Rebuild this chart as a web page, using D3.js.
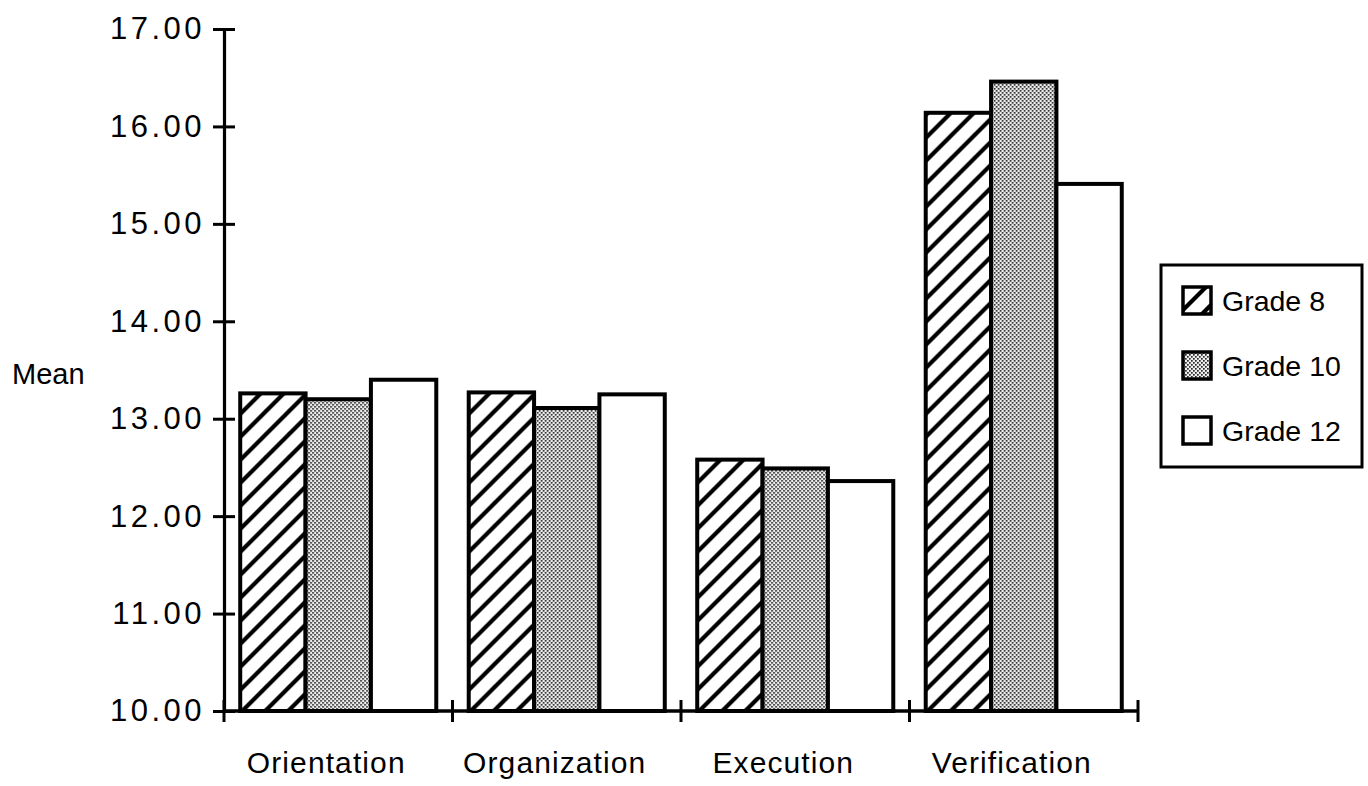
<!DOCTYPE html>
<html>
<head>
<meta charset="utf-8">
<script src="https://cdn.jsdelivr.net/npm/d3@7"></script>
<style>
  html, body { margin: 0; padding: 0; background: #fff; }
  svg { display: block; }
  text { font-family: "Liberation Sans", Arial, Helvetica, sans-serif; fill: #000; }
</style>
</head>
<body>
<svg id="chart" width="1368" height="786"></svg>
<script>
// Mean scores by problem-solving phase and grade
const categories = ["Orientation", "Organization", "Execution", "Verification"];
const grades = ["Grade 8", "Grade 10", "Grade 12"];
const grade8  = [13.26, 13.27, 12.58, 16.14];
const grade10 = [13.20, 13.11, 12.49, 16.46];
const grade12 = [13.40, 13.25, 12.36, 15.41];
const yTicks = [10, 11, 12, 13, 14, 15, 16, 17];
const yAxisTitle = "Mean";

const seriesValues = [grade8, grade10, grade12];
const fills = ["url(#hatch)", "url(#stipple)", "#ffffff"];

const svg = d3.select("#chart");

const plot = { left: 224, right: 1138, top: 29, bottom: 711 };

// fill patterns
const defs = svg.append("defs");
const hatch = defs.append("pattern")
  .attr("id", "hatch").attr("patternUnits", "userSpaceOnUse")
  .attr("width", 23).attr("height", 23);
hatch.append("rect").attr("width", 23).attr("height", 23).attr("fill", "#fff");
hatch.append("path")
  .attr("d", "M0,23 L23,0 M-6,6 L6,-6 M17,29 L29,17")
  .attr("stroke", "#000").attr("stroke-width", 4.2);

const stipple = defs.append("pattern")
  .attr("id", "stipple").attr("patternUnits", "userSpaceOnUse")
  .attr("width", 4).attr("height", 4);
stipple.append("rect").attr("width", 4).attr("height", 4).attr("fill", "#eeeeee");
stipple.append("rect").attr("x", 0).attr("y", 0).attr("width", 1.7).attr("height", 1.7).attr("fill", "#2a2a2a");
stipple.append("rect").attr("x", 2).attr("y", 2).attr("width", 1.7).attr("height", 1.7).attr("fill", "#2a2a2a");

// scales
const y = d3.scaleLinear().domain([10, 17]).range([plot.bottom, plot.top]);
const x0 = d3.scaleBand().domain(categories).range([plot.left, plot.right])
  .paddingInner(0.142).paddingOuter(0.071);
const x1 = d3.scaleBand().domain(grades).range([0, x0.bandwidth()]).padding(0);

// bars
const groups = svg.append("g").selectAll("g")
  .data(categories).join("g")
  .attr("transform", d => `translate(${x0(d)},0)`);

groups.selectAll("rect")
  .data((c, ci) => grades.map((g, gi) => ({ g, gi, v: seriesValues[gi][ci] })))
  .join("rect")
  .attr("x", d => x1(d.g))
  .attr("y", d => y(d.v))
  .attr("width", x1.bandwidth())
  .attr("height", d => y(10) - y(d.v))
  .attr("fill", d => fills[d.gi])
  .attr("stroke", "#000")
  .attr("stroke-width", 4);

// y axis
const yAxis = svg.append("g")
  .attr("transform", `translate(${plot.left},0)`)
  .call(d3.axisLeft(y).tickValues(yTicks).tickFormat(d3.format(".2f")).tickSize(11).tickPadding(8));
yAxis.select(".domain").attr("stroke", "#000").attr("stroke-width", 3.2);
yAxis.selectAll(".tick line").attr("x1", -11).attr("x2", 11).attr("stroke-width", 3);
yAxis.selectAll(".tick text")
  .attr("font-size", 31).attr("letter-spacing", 3.5)
  .attr("font-family", "Liberation Sans, Arial, sans-serif");

// x axis with ticks at category boundaries
const boundaries = d3.range(categories.length + 1).map(i => x0.range()[0] + i * x0.step());
const xAxis = svg.append("g");
xAxis.append("line")
  .attr("x1", plot.left).attr("x2", plot.right).attr("y1", plot.bottom).attr("y2", plot.bottom)
  .attr("stroke", "#000").attr("stroke-width", 3.5);
xAxis.selectAll("line.bt").data(boundaries).join("line")
  .attr("class", "bt")
  .attr("x1", d => d).attr("x2", d => d)
  .attr("y1", plot.bottom - 11).attr("y2", plot.bottom + 11)
  .attr("stroke", "#000").attr("stroke-width", 3);

// category labels
svg.append("g").selectAll("text")
  .data(categories).join("text")
  .attr("x", d => x0(d) + x0.bandwidth() / 2 - 12)
  .attr("y", 773)
  .attr("text-anchor", "middle")
  .attr("font-size", 30)
  .attr("letter-spacing", 1.1)
  .text(d => d);

// axis title
svg.append("text")
  .attr("x", 12).attr("y", 384)
  .attr("font-size", 29)
  .text(yAxisTitle);

// legend
const legend = svg.append("g");
legend.append("rect")
  .attr("x", 1161).attr("y", 265).attr("width", 201).attr("height", 202)
  .attr("fill", "#fff").attr("stroke", "#000").attr("stroke-width", 3);
const rows = legend.selectAll("g.row").data(grades).join("g")
  .attr("class", "row")
  .attr("transform", (d, i) => `translate(1183,${287 + i * 65})`);
rows.append("rect")
  .attr("width", 28).attr("height", 27)
  .attr("fill", (d, i) => fills[i])
  .attr("stroke", "#000").attr("stroke-width", 3.5);
rows.append("text")
  .attr("x", 39).attr("y", 24)
  .attr("font-size", 28.5)
  .text(d => d);
</script>
</body>
</html>
